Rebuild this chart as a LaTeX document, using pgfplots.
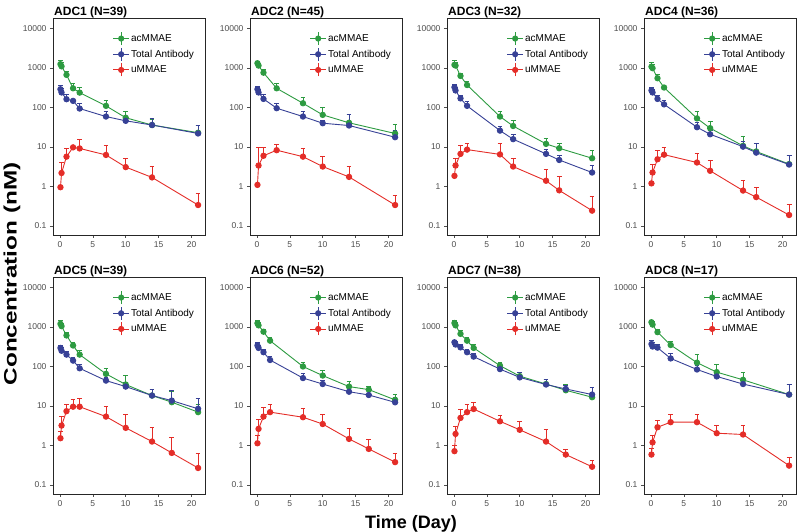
\documentclass[border=0pt]{standalone}
\usepackage{fontspec}
\setmainfont{Liberation Sans}
\usepackage{pgfplots}
\usepackage{pgfplotstable}
\pgfplotsset{compat=1.18}

\definecolor{acg}{RGB}{45,155,65}
\definecolor{tbb}{RGB}{55,65,150}
\definecolor{umr}{RGB}{228,45,40}
\definecolor{tickgray}{RGB}{77,77,77}

\pgfplotstableread{
t ac acu tb tbu um umu
0.083 1250 1600 290 370 0.96 0.96
0.25 1100 1350 240 300 2.2 4.0
1 670 810 162 215 5.7 9.3
2 306 410 147 150 9.8 9.8
3 238 325 94 128 9.2 16
7 110 155 59 79 6.3 11.3
10 55 82 46 50 3.1 5.2
14 36 50 36 53 1.7 3.3
21 23 35 22 35 0.34 0.68
}\tA
\pgfplotstableread{
t ac acu tb tbu um umu
0.083 1320 1500 290 350 1.1 1.1
0.25 1150 1300 240 290 3.4 10
1 760 930 165 220 6.0 10
3 306 400 96 129 8.3 11.7
7 128 182 59 79 5.7 9.0
10 65 100 40 48 3.2 5.7
14 41 65 35 65 1.75 3.2
21 22 38 17.7 27 0.34 0.58
}\tB
\pgfplotstableread{
t ac acu tb tbu um umu
0.083 1200 1600 325 390 1.86 1.86
0.25 1150 1400 270 330 3.4 5.2
1 630 730 170 208 6.7 10.7
2 370 450 110 140 8.6 12.4
7 59 79 26 34 6.5 12.4
9 34 47 15.8 21 3.2 5.2
14 12 16.7 6.7 8.5 1.4 2.7
16 9.3 12.4 4.7 6.3 0.8 1.8
21 5.2 8 2.26 3.5 0.245 0.56
}\tC
\pgfplotstableread{
t ac acu tb tbu um umu
0.083 1080 1370 270 325 1.2 1.2
0.25 990 1200 240 290 2.26 3.7
1 550 670 165 208 4.9 8.1
2 320 370 120 155 6.4 10
7 53 79 31.7 41 4.05 6.7
9 30 44 21 27 2.5 4.5
14 10.7 18.4 10.2 13.7 0.79 1.47
16 7.7 12 7.2 12 0.54 0.96
21 3.7 6.3 3.6 6.3 0.19 0.36
}\tD
\pgfplotstableread{
t ac acu tb tbu um umu
0.083 1200 1450 295 340 1.53 2.3
0.25 1050 1250 250 300 3.2 5.4
1 610 730 200 240 7.4 11.3
2 340 410 141 170 9.6 15
3 200 260 90 116 9.6 16
7 65 92 44 53 5.4 10
10 35 60 31 40 2.8 6.3
14 18.4 27 18.4 27 1.26 2.8
17 12.5 23.5 13.7 24.6 0.65 1.6
21 7 11.3 8.5 16 0.27 0.64
}\tE
\pgfplotstableread{
t ac acu tb tbu um umu
0.083 1240 1500 340 410 1.14 1.8
0.25 1100 1300 295 350 2.64 4.5
1 760 890 230 278 5.4 9
2 450 550 146 178 7 10.9
7 100 128 51 65 5.2 8.5
10 59 82 36 44 3.5 6.1
14 31 42 23 30 1.47 2.64
17 26 31 19 24.6 0.82 1.47
21 14.3 20 12.4 16.7 0.38 0.64
}\tF
\pgfplotstableread{
t ac acu tb tbu um umu
0.083 1260 1500 410 470 0.72 1.0
0.25 1100 1300 360 420 1.97 3.1
1 670 810 305 360 5 8.1
2 450 530 230 278 7 10.9
3 295 360 178 210 8.4 12.5
7 105 128 86 100 4.1 5.7
10 57 72 53 72 2.5 4.1
14 36 46 35 48 1.26 2.5
17 25 35 27 33 0.59 0.78
21 16.7 22.5 19.5 29 0.29 0.43
}\tG
\pgfplotstableread{
t ac acu tb tbu um umu
0.083 1320 1500 370 470 0.59 0.87
0.25 1150 1350 320 400 1.2 1.8
1 740 890 300 370 2.9 4.3
3 350 425 160 220 3.9 6.3
7 125 200 84 107 3.9 6.3
10 72 110 56 72 2.05 3.2
14 46 72 36 46 1.9 3.2
21 19.5 35 19.5 35 0.31 0.49
}\tH

\pgfplotsset{
  adcpanel/.style={
    scale only axis, width=152pt, height=216.5pt, anchor=south west,
    ymin=0.0593, ymax=17890, xmin=-1.05, xmax=22.05,
    xtick={0,5,10,15,20}, xticklabels={0,5,10,15,20},
    ytick={0.1,1,10,100,1000,10000}, yticklabels={0.1,1,10,100,1000,10000},
    yminorticks=false, xminorticks=false,
    tick align=outside, tick pos=left, major tick length=3pt,
    tick style={tickgray, line width=0.6pt},
    axis line style={black!85, line width=0.8pt},
    tick label style={font=\fontsize{8.5}{10}\selectfont, text=tickgray},
    /pgf/number format/assume math mode=true,
    title style={at={(0,1)}, anchor=south west, inner xsep=1pt, inner ysep=2pt,
      yshift=-8pt, font=\bfseries\fontsize{12}{14}\selectfont},
    legend cell align=left,
    legend style={draw=none, fill=none, at={(0.385,0.945)}, anchor=north west,
      font=\fontsize{10}{12}\selectfont, row sep=1.8pt, inner sep=1pt,
      nodes={inner xsep=1.5pt, inner ysep=1pt}},
    legend image code/.code={
      \draw[##1, line width=0.9pt] (0pt,0pt) -- (16pt,0pt);
      \draw[##1, line width=0.9pt] (8pt,-6.5pt) -- (8pt,6.5pt);
      \fill[##1] (8pt,0pt) circle (2.6pt);
    },
  },
  ser/.style={color=#1, line width=0.9pt, mark=*, mark size=2.7pt,
    mark options={fill=#1, draw=#1},
    error bars/.cd, y dir=plus, y explicit,
    error bar style={line width=0.8pt},
    error mark options={rotate=90, mark size=2.4pt, line width=0.8pt}},
}

\newcommand{\panel}[4]{%
\begin{axis}[ymode=log, adcpanel, at={(#1pt,#2pt)}, title={#4}]
\addplot[ser=acg] table[x=t, y=ac, y error expr=\thisrow{acu}-\thisrow{ac}] {#3};
\addplot[ser=tbb] table[x=t, y=tb, y error expr=\thisrow{tbu}-\thisrow{tb}] {#3};
\addplot[ser=umr] table[x=t, y=um, y error expr=\thisrow{umu}-\thisrow{um}] {#3};
\legend{acMMAE,Total Antibody,uMMAE}
\end{axis}}

\begin{document}
\begin{tikzpicture}
\useasboundingbox (0pt,0pt) rectangle (800pt,532pt);
\panel{53}{297}{\tA}{ADC1 (N=39)}
\panel{250}{297}{\tB}{ADC2 (N=45)}
\panel{447}{297}{\tC}{ADC3 (N=32)}
\panel{644}{297}{\tD}{ADC4 (N=36)}
\panel{53}{38}{\tE}{ADC5 (N=39)}
\panel{250}{38}{\tF}{ADC6 (N=52)}
\panel{447}{38}{\tG}{ADC7 (N=38)}
\panel{644}{38}{\tH}{ADC8 (N=17)}
\node[font=\bfseries\fontsize{18}{20}\selectfont, inner sep=0pt] at (411pt,8pt) {Time (Day)};
\node[font=\bfseries\fontsize{18}{20}\selectfont, rotate=90] at (12pt,258pt) {\scalebox{1.35}[1]{Concentration (nM)}};
\end{tikzpicture}
\end{document}
